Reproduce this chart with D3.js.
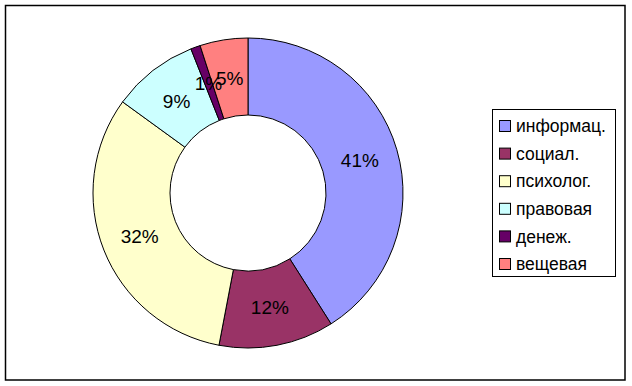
<html>
  <head>
    <meta charset="utf-8">
    <script src="https://cdnjs.cloudflare.com/ajax/libs/d3/7.9.0/d3.min.js"></script>
    <style>
      body { margin: 0; background: #fff; }
      text { font-family: Arial, "Liberation Sans", sans-serif; }
    </style>
  </head>
  <body onload="main()">
  </body>
  <script>
    const categories = ['информац.', 'социал.', 'психолог.', 'правовая', 'денеж.', 'вещевая']
    const values = [41, 12, 32, 9, 1, 5]
    const colors = ['#9999FF', '#993366', '#FFFFCC', '#CCFFFF', '#660066', '#FF8080']

    function main() {
      const width = 632
      const height = 386
      const svg = d3.select('body')
        .append('svg')
        .attr('width', width)
        .attr('height', height)

      // chart frame
      svg.append('rect')
        .attr('x', 5.5)
        .attr('y', 5.5)
        .attr('width', 619.5)
        .attr('height', 374.5)
        .attr('fill', 'white')
        .attr('stroke', 'black')
        .attr('stroke-width', 1.5)

      const cx = 248, cy = 193
      const outer = 155, inner = 78
      const fill = d3.scaleOrdinal(categories, colors)
      const total = d3.sum(values)
      const pie = d3.pie().sort(null)
      const arcs = pie(values)
      const arc = d3.arc().innerRadius(inner).outerRadius(outer)
      const labelArc = d3.arc().innerRadius((inner + outer) / 2).outerRadius((inner + outer) / 2)

      const g = svg.append('g')
        .attr('transform', `translate(${cx}, ${cy})`)

      g.selectAll('.slice')
        .data(arcs)
        .enter()
        .append('path')
        .classed('slice', true)
        .attr('d', arc)
        .attr('fill', (d, i) => fill(categories[i]))
        .attr('stroke', 'black')
        .attr('stroke-width', '1px')

      g.selectAll('.label')
        .data(arcs)
        .enter()
        .append('text')
        .classed('label', true)
        .attr('transform', d => `translate(${labelArc.centroid(d)})`)
        .attr('text-anchor', 'middle')
        .attr('dy', '0.35em')
        .attr('font-size', 19)
        .attr('fill', 'black')
        .text(d => Math.round(d.data / total * 100) + '%')

      // legend
      const legend = svg.append('g')
      legend.append('rect')
        .attr('x', 492.5)
        .attr('y', 109.5)
        .attr('width', 123)
        .attr('height', 167)
        .attr('fill', 'white')
        .attr('stroke', 'black')
        .attr('stroke-width', 1)

      const y = d3.scalePoint(categories, [126, 264])
      const items = legend.selectAll('.item')
        .data(categories)
        .enter()
        .append('g')
        .classed('item', true)
        .attr('transform', d => `translate(0, ${y(d)})`)
      items.append('rect')
        .attr('x', 499.5)
        .attr('y', -5.5)
        .attr('width', 11)
        .attr('height', 11)
        .attr('fill', d => fill(d))
        .attr('stroke', 'black')
        .attr('stroke-width', 1)
      items.append('text')
        .attr('x', 516)
        .attr('dy', '0.35em')
        .attr('font-size', 17.5)
        .text(d => d)
    }
  </script>
</html>
